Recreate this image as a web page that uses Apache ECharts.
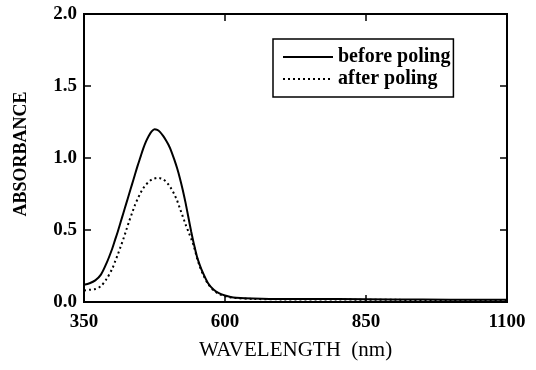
<!DOCTYPE html>
<html>
<head>
<meta charset="utf-8">
<script src="https://cdn.jsdelivr.net/npm/echarts@6/dist/echarts.min.js"></script>
<style>html,body{margin:0;padding:0;background:#fff;}#c{width:536px;height:370px;}</style>
</head>
<body>
<div id="c"></div>
<script>
var wavelengths = [350,360,370,380,390,400,405,410,415,420,425,430,435,440,445,450,455,460,465,470,475,480,485,490,495,500,505,510,515,520,525,530,535,540,545,550,555,560,570,580,590,600,610,620,650,700,800,900,1000,1100];
var beforePoling = [0.12,0.13,0.15,0.19,0.27,0.37,0.43,0.49,0.555,0.62,0.685,0.75,0.815,0.88,0.945,1.005,1.065,1.115,1.155,1.185,1.20,1.195,1.18,1.155,1.125,1.09,1.045,0.99,0.93,0.86,0.78,0.69,0.59,0.49,0.40,0.32,0.26,0.21,0.13,0.085,0.06,0.045,0.035,0.03,0.024,0.02,0.02,0.018,0.016,0.015];
var afterPoling = [0.08,0.085,0.09,0.11,0.16,0.23,0.28,0.33,0.385,0.44,0.50,0.56,0.615,0.67,0.715,0.755,0.79,0.815,0.835,0.85,0.858,0.862,0.86,0.852,0.838,0.815,0.785,0.75,0.705,0.65,0.595,0.54,0.49,0.44,0.385,0.31,0.25,0.20,0.125,0.08,0.055,0.04,0.032,0.027,0.021,0.018,0.017,0.015,0.013,0.012];
var xTicks = [350,600,850,1100];
var yTicks = [0,0.5,1.0,1.5,2.0];
var seriesNames = ['before poling','after poling'];

function pairs(xs, ys){ return xs.map(function(x,i){ return [x, ys[i]]; }); }

var chart = echarts.init(document.getElementById('c'), null, {renderer:'canvas'});
var font = 'Liberation Serif, Times New Roman, serif';
var axisLine = {show:true, onZero:false, lineStyle:{color:'#000', width:2}};
var tick = {show:true, inside:true, length:7, lineStyle:{color:'#000', width:1.5}};
chart.setOption({
  animation:false,
  backgroundColor:'#fff',
  grid:{left:84, right:29, top:14, bottom:68, show:true, borderColor:'#000', borderWidth:2, backgroundColor:'transparent'},
  legend:{
    orient:'vertical', left:273, top:39,
    data:seriesNames,
    borderColor:'#000', borderWidth:1.5, borderRadius:0,
    padding:[8,3,8,9], itemGap:2,
    itemWidth:50, itemHeight:14,
    itemStyle:{opacity:0},
    textStyle:{fontFamily:font, fontSize:20, fontWeight:'bold', lineHeight:20, color:'#000'}
  },
  xAxis:[{
    type:'value', min:350, max:1100, interval:250,
    name:'WAVELENGTH  (nm)', nameLocation:'middle', nameGap:38,
    nameTextStyle:{fontFamily:font, fontSize:21, color:'#000'},
    axisLine:axisLine, axisTick:tick,
    axisLabel:{fontFamily:font, fontSize:19, fontWeight:'bold', color:'#000', margin:11,
      formatter:function(v){ return xTicks.indexOf(v)>=0 ? String(v) : ''; }},
    splitLine:{show:false}
  },{
    type:'value', position:'top', min:350, max:1100, interval:250,
    axisLine:axisLine, axisTick:tick,
    axisLabel:{show:false}, splitLine:{show:false}
  }],
  yAxis:[{
    type:'value', min:0, max:2, interval:0.5,
    name:'ABSORBANCE', nameLocation:'middle', nameGap:54,
    nameTextStyle:{fontFamily:font, fontSize:18, fontWeight:'bold', color:'#000', padding:[0,0,0,8]},
    axisLine:axisLine, axisTick:tick,
    axisLabel:{fontFamily:font, fontSize:19, fontWeight:'bold', color:'#000', margin:7,
      formatter:function(v){ return yTicks.indexOf(v)>=0 ? v.toFixed(1) : ''; }},
    splitLine:{show:false}
  },{
    type:'value', position:'right', min:0, max:2, interval:0.5,
    axisLine:axisLine, axisTick:tick,
    axisLabel:{show:false}, splitLine:{show:false}
  }],
  series:[{
    name:seriesNames[0], type:'line', smooth:0.3, symbol:'none',
    data:pairs(wavelengths, beforePoling),
    lineStyle:{color:'#000', width:2, type:'solid'},
    itemStyle:{color:'#000'}
  },{
    name:seriesNames[1], type:'line', smooth:0.3, symbol:'none',
    data:pairs(wavelengths, afterPoling),
    lineStyle:{color:'#000', width:2, type:[2,3]},
    itemStyle:{color:'#000'}
  }]
});
</script>
</body>
</html>
